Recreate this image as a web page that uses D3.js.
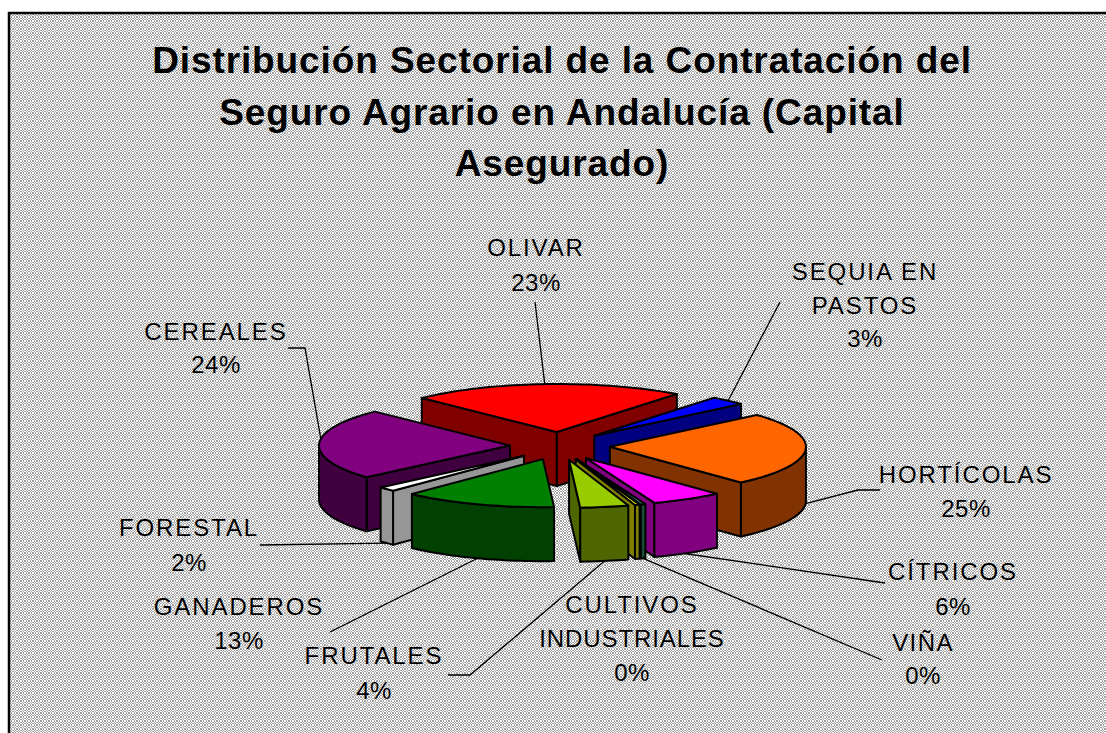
<!DOCTYPE html>
<html><head><meta charset="utf-8">
<script src="https://cdnjs.cloudflare.com/ajax/libs/d3/7.8.5/d3.min.js"></script>
<style>html,body{margin:0;padding:0;background:#fff;overflow:hidden}svg{display:block}
text{font-family:"Liberation Sans",Arial,sans-serif;fill:#000}</style></head>
<body><svg id="c" width="1106" height="733"></svg>
<script>
const titleLines = ["Distribución Sectorial de la Contratación del","Seguro Agrario en Andalucía (Capital","Asegurado)"];
const categories = ["OLIVAR","SEQUIA EN PASTOS","HORTÍCOLAS","CÍTRICOS","VIÑA","CULTIVOS INDUSTRIALES","FRUTALES","GANADEROS","FORESTAL","CEREALES"];
const values = [23.1,3,25,6,0.4,0.4,4,13,1.5,24.1];
const percentLabels = ["23%","3%","25%","6%","0%","0%","4%","13%","2%","24%"];
const topColors = ["#ff0000","#0000ff","#ff6600","#ff00ff","#339966","#ffff00","#99cc00","#008000","#ffffff","#800080"];
const wallColors = ["#800000","#000080","#803300","#800080","#1a4d33","#808000","#4d6600","#004000","#969696","#400040"];
const drawOrder = [0,1,2,9,8,3,4,5,6,7];

// Layout (separate from data)
const W=1106,H=733, cx=560, cy=446, ry=48, depth=54, explode=50, tilt=0.28;
const labelLayout = [
 {lines:["OLIVAR"],x:536,y:[247,282],ls:[1.9]},
 {lines:["SEQUIA EN","PASTOS"],x:865,y:[271,305,338],ls:[1.9,1.9]},
 {lines:["HORTÍCOLAS"],x:966,y:[474,508],ls:[1.9]},
 {lines:["CÍTRICOS"],x:953,y:[571,606],ls:[1.9]},
 {lines:["VIÑA"],x:923,y:[642,675],ls:[1.4]},
 {lines:["CULTIVOS","INDUSTRIALES"],x:632,y:[604,638,672],ls:[1.9,0.9]},
 {lines:["FRUTALES"],x:374,y:[655,690],ls:[1.9]},
 {lines:["GANADEROS"],x:239,y:[606,640],ls:[1.9]},
 {lines:["FORESTAL"],x:189,y:[527,562],ls:[1.9]},
 {lines:["CEREALES"],x:216,y:[331,364],ls:[1.9]}
];
const leaderLayout = [
 {from:[[535,302]],frac:.5,top:true},
 {from:[[780,302]],frac:.5,top:true},
 {from:[[880,490],[858,490]],frac:.5,d:1},
 {from:[[885,583]],frac:.55,d:1},
 {from:[[882,660]],frac:.5,d:1},
 null,
 {from:[[448,675],[470,675]],frac:.5,d:1},
 {from:[[330,632]],frac:.5,d:1},
 {from:[[260,545]],frac:.5,d:1},
 {from:[[288,348],[305,348]],frac:.57,top:true}
];

const svg=d3.select("#c");
// dithered background: a one-pixel checker resampled at a non-integer scale
const defs=svg.append("defs");
const tile=8, cell=4/3;
const pat=defs.append("pattern").attr("id","dith").attr("width",tile).attr("height",tile).attr("patternUnits","userSpaceOnUse");
pat.append("rect").attr("width",tile).attr("height",tile).attr("fill","#ffffff");
d3.range(tile).forEach(y=>d3.range(tile).forEach(x=>{
 if((Math.floor(x/cell)+Math.floor(y/cell))%2===0)
  pat.append("rect").attr("x",x).attr("y",y).attr("width",1).attr("height",1).attr("fill","#a0a0a0");
}));
svg.append("rect").attr("x",9).attr("y",13).attr("width",W).attr("height",H).attr("fill","url(#dith)").attr("stroke","#000").attr("stroke-width",2.5);

// title
svg.append("g").selectAll("text").data(titleLines).join("text")
 .attr("x",562).attr("y",(d,i)=>73+i*51.5).attr("text-anchor","middle")
 .attr("font-size",37).attr("font-weight","bold").attr("letter-spacing",0.9).text(d=>d);

// pie geometry
const pie=d3.pie().sort(null).startAngle(-45*Math.PI/180).endAngle(315*Math.PI/180);
const arcs=pie(values);
const xs=d3.scaleLinear().domain([-1,0,1]).range([-191,0,196]);
const ys=d3.scaleLinear().domain([-1,1]).range([ry,-ry]);
const apexOf=a=>{const m=(a.startAngle+a.endAngle)/2;return [cx+explode*Math.sin(m),cy-explode*tilt*Math.cos(m)];};
const rim=(a,t,off=0)=>{const p=apexOf(a);return [p[0]+xs(Math.sin(t)),p[1]+ys(Math.cos(t))+off];};
const path=d3.line();
const arcPts=(a,s,e,off)=>{const n=Math.max(2,Math.ceil((e-s)/0.03));return d3.range(n+1).map(i=>rim(a,s+(e-s)*i/n,off));};

function poly(g,pts,fill){g.append("path").attr("d",path(pts)+"Z").attr("fill",fill).attr("stroke","#000").attr("stroke-width",2).attr("stroke-linejoin","round");}
const g=svg.append("g");
drawOrder.forEach(i=>{
 const a=arcs[i],sg=g.append("g"),ap=apexOf(a),s=a.startAngle,e=a.endAngle;
 const apB=[ap[0],ap[1]+depth];
 if(Math.sin(s)<0) poly(sg,[ap,rim(a,s),rim(a,s,depth),apB],wallColors[i]);
 if(Math.sin(e)>0) poly(sg,[ap,rim(a,e),rim(a,e,depth),apB],wallColors[i]);
 const fs=Math.max(s,Math.PI/2), fe=Math.min(e,3*Math.PI/2);
 if(fe>fs){ poly(sg,[...arcPts(a,fs,fe,0),...arcPts(a,fs,fe,depth).reverse()],wallColors[i]); }
 poly(sg,[ap,...arcPts(a,s,e,0)],topColors[i]);
});

// leaders
const lg=svg.append("g").attr("fill","none").attr("stroke","#000").attr("stroke-width",1.3);
leaderLayout.forEach((l,i)=>{ if(!l) return;
 const a=arcs[i],t=a.startAngle+(a.endAngle-a.startAngle)*l.frac;
 const end=rim(a,t,l.top?0:(l.d||0)*depth);
 lg.append("path").attr("d",path([...l.from,end]));
});
// labels
const tg=svg.append("g");
labelLayout.forEach((l,i)=>{
 l.lines.forEach((s,j)=>tg.append("text").attr("x",l.x).attr("y",l.y[j]+8.5).attr("text-anchor","middle").attr("font-size",24).attr("letter-spacing",l.ls[j]).text(s));
 tg.append("text").attr("x",l.x).attr("y",l.y[l.lines.length]+8.5).attr("text-anchor","middle").attr("font-size",24).attr("letter-spacing",0.5).text(percentLabels[i]);
});
</script></body></html>
